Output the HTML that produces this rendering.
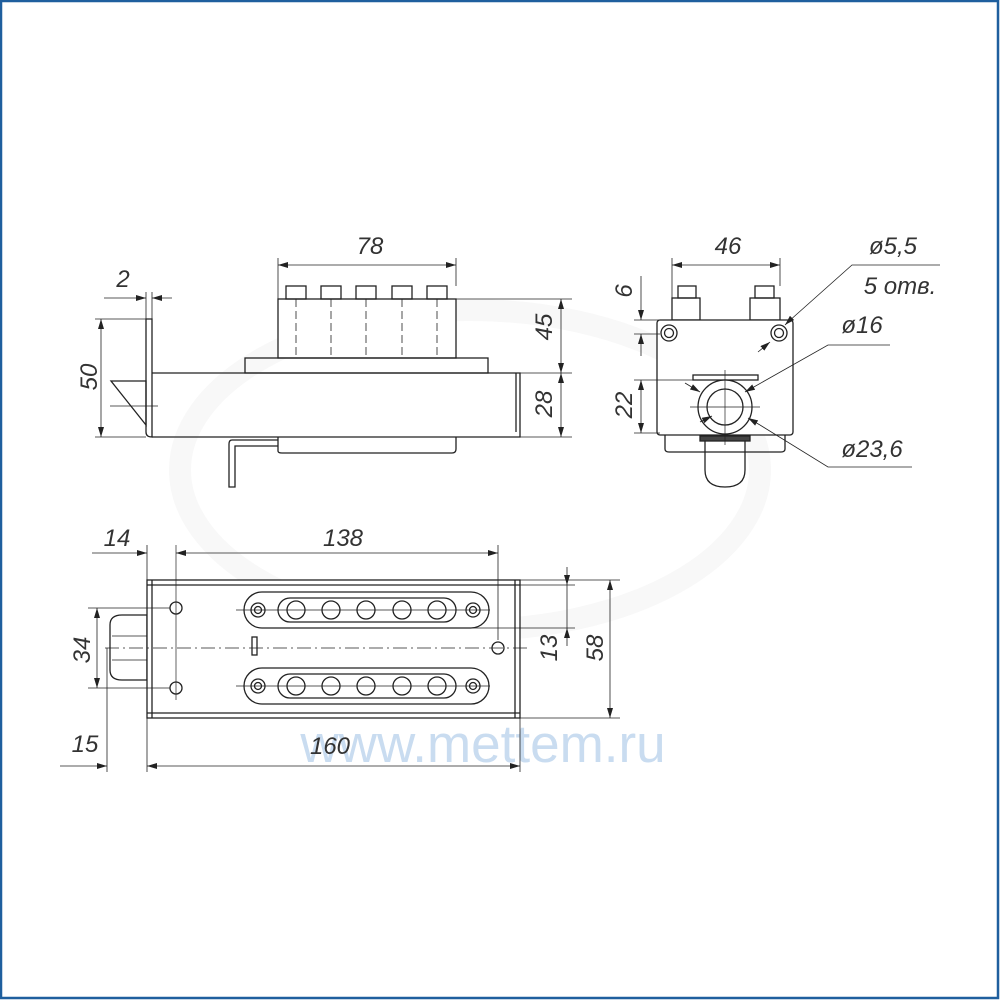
<!DOCTYPE html>
<html><head><meta charset="utf-8"><style>
html,body{margin:0;padding:0;background:#fff}
svg{display:block}
text{font-family:"Liberation Sans",sans-serif;font-style:italic;fill:#333;font-size:24px}
</style></head><body>
<svg width="1000" height="1000" viewBox="0 0 1000 1000" xmlns="http://www.w3.org/2000/svg">
<defs>
<marker id="a" viewBox="0 0 10 6" refX="10" refY="3" markerWidth="10" markerHeight="6" orient="auto-start-reverse" markerUnits="userSpaceOnUse"><path d="M0,0 L10,3 L0,6 z" fill="#222"/></marker>
</defs>
<rect x="1" y="1" width="997" height="997" fill="#fff" stroke="#1f5f9e" stroke-width="2.5"/>
<!-- watermark -->
<ellipse cx="470" cy="470" rx="290" ry="160" fill="none" stroke="#f8f8f8" stroke-width="22"/>
<text x="483" y="762" text-anchor="middle" style="font-style:normal;font-size:53px;fill:#c9dcf0">www.mettem.ru</text>

<g stroke="#222" stroke-width="1.3" fill="none">
<!-- FRONT VIEW -->
<rect x="278" y="299" width="178" height="59" fill="#fff"/>
<rect x="286" y="286" width="20" height="13"/><rect x="321" y="286" width="20" height="13"/><rect x="356" y="286" width="20" height="13"/><rect x="392" y="286" width="20" height="13"/><rect x="427" y="286" width="20" height="13"/>
<g stroke-dasharray="8,4" stroke-width="0.8"><line x1="296" y1="299" x2="296" y2="358"/><line x1="331" y1="299" x2="331" y2="358"/><line x1="366" y1="299" x2="366" y2="358"/><line x1="402" y1="299" x2="402" y2="358"/><line x1="437" y1="299" x2="437" y2="358"/></g>
<rect x="245" y="358" width="243" height="15"/>
<path d="M152,373 H520 V437 H152"/>
<line x1="516" y1="373" x2="516" y2="432"/>
<path d="M146,319 H152 V437 Q146,437 146,432 Z"/>
<path d="M111,381 H146 V425 Z"/>
<line x1="110" y1="406" x2="158" y2="406" stroke-width="0.7"/>
<path d="M278,437 V451 Q278,453 282,453 H452 Q456,453 456,449 V437"/>
<path d="M278,440 H232 Q229,440 229,444 V487 H235 V446 H278"/>
<!-- front dims -->
<g stroke-width="0.8">
<line x1="278" y1="299" x2="278" y2="258"/><line x1="456" y1="286" x2="456" y2="258"/>
<line x1="278" y1="265" x2="456" y2="265" marker-start="url(#a)" marker-end="url(#a)"/>
<line x1="146" y1="319" x2="146" y2="292"/><line x1="152" y1="319" x2="152" y2="292"/>
<line x1="104" y1="298" x2="146" y2="298" marker-end="url(#a)"/><line x1="172" y1="298" x2="152" y2="298" marker-end="url(#a)"/>
<line x1="95" y1="319" x2="146" y2="319"/><line x1="95" y1="437" x2="146" y2="437"/>
<line x1="101" y1="319" x2="101" y2="437" marker-start="url(#a)" marker-end="url(#a)"/>
<line x1="456" y1="299" x2="572" y2="299"/><line x1="520" y1="373" x2="572" y2="373"/><line x1="520" y1="437" x2="572" y2="437"/>
<line x1="561" y1="299" x2="561" y2="373" marker-start="url(#a)" marker-end="url(#a)"/>
<line x1="561" y1="373" x2="561" y2="437" marker-start="url(#a)" marker-end="url(#a)"/>
</g>

<!-- SIDE VIEW -->
<rect x="672" y="298" width="28" height="22"/><rect x="678" y="286" width="18" height="12"/>
<rect x="750" y="298" width="30" height="22"/><rect x="755" y="286" width="19" height="12"/>
<path d="M665,435 V449 Q665,452 669,452 H781 Q785,452 785,449 V435"/>
<path d="M705,441 V470 Q705,487 725,487 Q745,487 745,470 V441"/>
<rect x="657" y="320" width="136" height="115" rx="3" fill="#fff"/>
<circle cx="669" cy="333" r="8"/><circle cx="669" cy="333" r="4.5"/>
<circle cx="779" cy="333" r="8"/><circle cx="779" cy="333" r="4.5"/>
<rect x="693" y="375" width="65" height="5"/>
<circle cx="725" cy="407" r="27" fill="#fff"/><circle cx="725" cy="407" r="18"/>
<rect x="700" y="436" width="50" height="5" fill="#444"/>
<g stroke-width="0.7"><line x1="725" y1="370" x2="725" y2="445"/><line x1="690" y1="407" x2="760" y2="407"/></g>
<g stroke-width="0.8">
<line x1="672" y1="298" x2="672" y2="258"/><line x1="780" y1="286" x2="780" y2="258"/>
<line x1="672" y1="265" x2="780" y2="265" marker-start="url(#a)" marker-end="url(#a)"/>
<line x1="634" y1="320" x2="660" y2="320"/><line x1="634" y1="334" x2="660" y2="334"/>
<line x1="641" y1="276" x2="641" y2="320" marker-end="url(#a)"/><line x1="641" y1="356" x2="641" y2="334" marker-end="url(#a)"/>
<line x1="634" y1="380" x2="695" y2="380"/><line x1="634" y1="433" x2="660" y2="433"/>
<line x1="641" y1="380" x2="641" y2="433" marker-start="url(#a)" marker-end="url(#a)"/>
<path d="M940,265 H852 L788,322" /><line x1="788" y1="322" x2="785" y2="325" marker-end="url(#a)"/>
<line x1="758" y1="352" x2="770" y2="342" marker-end="url(#a)"/>
<path d="M890,345 H828 L745,392" marker-end="url(#a)"/>
<line x1="700" y1="422" x2="712" y2="416" marker-end="url(#a)"/>
<path d="M912,467 H828 L760,425" /><line x1="760" y1="425" x2="748" y2="418" marker-end="url(#a)"/>
<line x1="685" y1="383" x2="700" y2="392" marker-end="url(#a)"/>
</g>

<!-- TOP VIEW -->
<path d="M110,625 Q110,615 122,615 H147 V680 H122 Q110,680 110,670 Z"/>
<line x1="112" y1="636" x2="147" y2="636" stroke-width="0.8"/><line x1="112" y1="660" x2="147" y2="660" stroke-width="0.8"/>
<rect x="147" y="580" width="373" height="138" fill="#fff"/>
<line x1="152" y1="580" x2="152" y2="718"/><line x1="515" y1="580" x2="515" y2="718"/><line x1="147" y1="585" x2="520" y2="585"/><line x1="147" y1="713" x2="520" y2="713"/>
<circle cx="176" cy="608" r="6"/><circle cx="176" cy="688" r="6"/><circle cx="498" cy="648" r="6"/>
<rect x="252" y="637" width="5" height="18"/>
<g>
<rect x="244" y="592" width="245" height="36" rx="18"/><rect x="278" y="598" width="178" height="24" rx="12"/>
<circle cx="296" cy="610" r="9"/><circle cx="331" cy="610" r="9"/><circle cx="366" cy="610" r="9"/><circle cx="402" cy="610" r="9"/><circle cx="437" cy="610" r="9"/>
<circle cx="258" cy="610" r="7"/><circle cx="258" cy="610" r="3.5"/><circle cx="473" cy="610" r="7"/><circle cx="473" cy="610" r="3.5"/>
<rect x="244" y="668" width="245" height="36" rx="18"/><rect x="278" y="674" width="178" height="24" rx="12"/>
<circle cx="296" cy="686" r="9"/><circle cx="331" cy="686" r="9"/><circle cx="366" cy="686" r="9"/><circle cx="402" cy="686" r="9"/><circle cx="437" cy="686" r="9"/>
<circle cx="258" cy="686" r="7"/><circle cx="258" cy="686" r="3.5"/><circle cx="473" cy="686" r="7"/><circle cx="473" cy="686" r="3.5"/>
</g>
<g stroke-width="0.7">
<line x1="105" y1="648" x2="530" y2="648" stroke-dasharray="14,4,2,4"/>
<line x1="236" y1="610" x2="490" y2="610"/><line x1="236" y1="686" x2="490" y2="686"/>
<line x1="176" y1="545" x2="176" y2="700"/>
</g>
<g stroke-width="0.8">
<line x1="147" y1="545" x2="147" y2="580"/><line x1="498" y1="545" x2="498" y2="640"/>
<line x1="92" y1="553" x2="147" y2="553" marker-end="url(#a)"/>
<line x1="176" y1="553" x2="498" y2="553" marker-start="url(#a)" marker-end="url(#a)"/>
<line x1="88" y1="608" x2="170" y2="608"/><line x1="88" y1="688" x2="170" y2="688"/>
<line x1="97" y1="608" x2="97" y2="688" marker-start="url(#a)" marker-end="url(#a)"/>
<line x1="470" y1="585" x2="575" y2="585"/><line x1="470" y1="628" x2="575" y2="628"/>
<line x1="567" y1="567" x2="567" y2="585" marker-end="url(#a)"/><line x1="567" y1="646" x2="567" y2="628" marker-end="url(#a)"/>
<line x1="567" y1="585" x2="567" y2="628"/>
<line x1="520" y1="580" x2="620" y2="580"/><line x1="520" y1="718" x2="620" y2="718"/>
<line x1="610" y1="580" x2="610" y2="718" marker-start="url(#a)" marker-end="url(#a)"/>
<line x1="107" y1="648" x2="107" y2="772"/><line x1="147" y1="718" x2="147" y2="772"/><line x1="520" y1="718" x2="520" y2="772"/>
<line x1="60" y1="766" x2="107" y2="766" marker-end="url(#a)"/>
<line x1="147" y1="766" x2="520" y2="766" marker-start="url(#a)" marker-end="url(#a)"/>
</g>
</g>

<!-- labels -->
<text x="370" y="254" text-anchor="middle">78</text>
<text x="123" y="287" text-anchor="middle">2</text>
<text transform="translate(97,377) rotate(-90)" text-anchor="middle">50</text>
<text transform="translate(552,327) rotate(-90)" text-anchor="middle">45</text>
<text transform="translate(552,404) rotate(-90)" text-anchor="middle">28</text>
<text x="728" y="254" text-anchor="middle">46</text>
<text x="893" y="254" text-anchor="middle">ø5,5</text>
<text x="900" y="294" text-anchor="middle">5 отв.</text>
<text x="862" y="333" text-anchor="middle">ø16</text>
<text x="872" y="457" text-anchor="middle">ø23,6</text>
<text transform="translate(632,291) rotate(-90)" text-anchor="middle">6</text>
<text transform="translate(632,405) rotate(-90)" text-anchor="middle">22</text>
<text x="117" y="546" text-anchor="middle">14</text>
<text x="343" y="546" text-anchor="middle">138</text>
<text transform="translate(90,650) rotate(-90)" text-anchor="middle">34</text>
<text transform="translate(557,648) rotate(-90)" text-anchor="middle">13</text>
<text transform="translate(603,648) rotate(-90)" text-anchor="middle">58</text>
<text x="85" y="752" text-anchor="middle">15</text>
<text x="330" y="754" text-anchor="middle">160</text>
</svg>
</body></html>
